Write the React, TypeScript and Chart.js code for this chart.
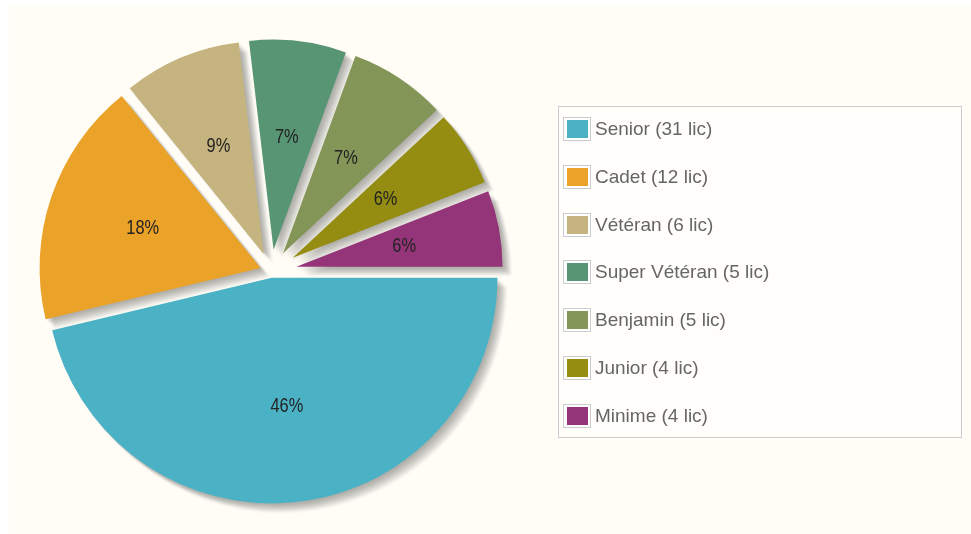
import React, { useEffect, useRef } from 'react';
import { Chart, registerables } from 'chart.js';

Chart.register(...registerables);

const categories = ['Senior', 'Cadet', 'Vétéran', 'Super Vétéran', 'Benjamin', 'Junior', 'Minime'];
const licences = [31, 12, 6, 5, 5, 4, 4];
const sliceColors = ['#4bb2c5', '#eaa228', '#c5b47f', '#579575', '#839557', '#958c12', '#953579'];
const legendLabels = categories.map((c, i) => `${c} (${licences[i]} lic)`);

const SLICE_MARGIN = 12.4;
const SHADOW_STEP = 2.5;
const SHADOW_DEPTH = 5;
const SHADOW_ALPHA = 0.075;
const LABEL_FACTOR = 0.584;

function slicePath(ctx: CanvasRenderingContext2D, x: number, y: number, r: number, a1: number, a2: number) {
  ctx.beginPath();
  ctx.moveTo(x, y);
  ctx.arc(x, y, r, a1, a2, false);
  ctx.closePath();
}

function sliceGeometry(chart: any) {
  const meta = chart.getDatasetMeta(0);
  return meta.data.map((arc: any) => {
    const p = arc.getProps(['x', 'y', 'startAngle', 'endAngle', 'outerRadius'], true);
    const ang = p.endAngle - p.startAngle;
    const rp = SLICE_MARGIN / 2 / Math.sin((ang - (ang - Math.PI) / 8 / Math.PI) / 2);
    const mid = (p.startAngle + p.endAngle) / 2;
    return {
      x: p.x,
      y: p.y,
      R: p.outerRadius,
      mid,
      cx: p.x + Math.cos(mid) * rp,
      cy: p.y + Math.sin(mid) * rp,
      r: ang <= Math.PI ? p.outerRadius - rp : p.outerRadius + rp,
      a1: p.startAngle,
      a2: p.endAngle,
      color: arc.options.backgroundColor,
    };
  });
}

const jqPiePlugin = {
  id: 'jqPie',
  beforeDatasetsDraw(chart: any) {
    const ctx: CanvasRenderingContext2D = chart.ctx;
    const geo = sliceGeometry(chart);
    const dx = SHADOW_STEP * Math.cos(Math.PI / 4);
    const dy = SHADOW_STEP * Math.sin(Math.PI / 4);
    ctx.save();
    (ctx as any).filter = 'blur(1.2px)';
    ctx.fillStyle = `rgba(0,0,0,${SHADOW_ALPHA})`;
    geo.forEach((g: any) => {
      for (let k = 1; k <= SHADOW_DEPTH; k++) {
        slicePath(ctx, g.cx + dx * k, g.cy + dy * k, g.r, g.a1, g.a2);
        ctx.fill();
      }
    });
    ctx.restore();
    ctx.save();
    geo.forEach((g: any) => {
      slicePath(ctx, g.cx, g.cy, g.r, g.a1, g.a2);
      ctx.fillStyle = g.color;
      ctx.fill();
    });
    ctx.restore();
    return false;
  },
  afterDraw(chart: any) {
    const ctx: CanvasRenderingContext2D = chart.ctx;
    const geo = sliceGeometry(chart);
    const data: number[] = chart.data.datasets[0].data;
    const total = data.reduce((a, b) => a + b, 0);

    // data labels
    ctx.save();
    ctx.font = '21px "Liberation Sans", Arial, sans-serif';
    ctx.textAlign = 'center';
    ctx.textBaseline = 'middle';
    ctx.fillStyle = '#222222';
    geo.forEach((g: any, i: number) => {
      const lx = g.x + Math.cos(g.mid) * g.R * LABEL_FACTOR;
      const ly = g.y + Math.sin(g.mid) * g.R * LABEL_FACTOR;
      ctx.save();
      ctx.translate(lx, ly);
      ctx.scale(0.78, 1);
      ctx.fillText(`${Math.round((data[i] / total) * 100)}%`, 0, 0);
      ctx.restore();
    });
    ctx.restore();

    // legend
    const labels: string[] = chart.data.labels;
    const colors: string[] = chart.data.datasets[0].backgroundColor;
    const boxX = 549, boxY = 100, boxW = 404, boxH = 332;
    const rowY0 = 123, rowStep = 47.8;
    ctx.save();
    ctx.fillStyle = 'rgba(255,255,255,0.6)';
    ctx.fillRect(boxX, boxY, boxW, boxH);
    ctx.strokeStyle = '#cccccc';
    ctx.lineWidth = 1;
    ctx.strokeRect(boxX + 0.5, boxY + 0.5, boxW - 1, boxH - 1);
    ctx.font = '19px "Liberation Sans", Arial, sans-serif';
    ctx.textAlign = 'left';
    ctx.textBaseline = 'middle';
    labels.forEach((lab, i) => {
      const cy = Math.round(rowY0 + i * rowStep);
      ctx.fillStyle = '#ffffff';
      ctx.fillRect(554, cy - 12, 28, 24);
      ctx.strokeStyle = '#cccccc';
      ctx.strokeRect(554.5, cy - 11.5, 27, 23);
      ctx.fillStyle = colors[i];
      ctx.fillRect(558, cy - 9, 21, 18);
      ctx.fillStyle = '#666666';
      ctx.fillText(lab, 586, cy + 1);
    });
    ctx.restore();
  },
};

export default function App() {
  const canvasRef = useRef<HTMLCanvasElement | null>(null);

  useEffect(() => {
    const canvas = canvasRef.current;
    if (!canvas) return;
    const chart = new Chart(canvas, {
      type: 'pie',
      data: {
        labels: legendLabels,
        datasets: [
          {
            data: licences,
            backgroundColor: sliceColors,
            borderWidth: 0,
          },
        ],
      },
      options: {
        animation: false,
        responsive: false,
        rotation: 90,
        radius: 232,
        layout: { padding: { left: 0, top: 3, right: 438, bottom: 0 } },
        plugins: {
          legend: { display: false },
          tooltip: { enabled: false },
        },
      },
      plugins: [jqPiePlugin],
    });
    return () => chart.destroy();
  }, []);

  return (
    <div style={{ position: 'fixed', left: 0, top: 0, width: 971, height: 534, background: '#ffffff', overflow: 'hidden' }}>
      <canvas
        ref={canvasRef}
        width={962}
        height={528}
        style={{ position: 'absolute', left: 9, top: 6, width: 962, height: 528, background: '#fffdf6' }}
      />
    </div>
  );
}
